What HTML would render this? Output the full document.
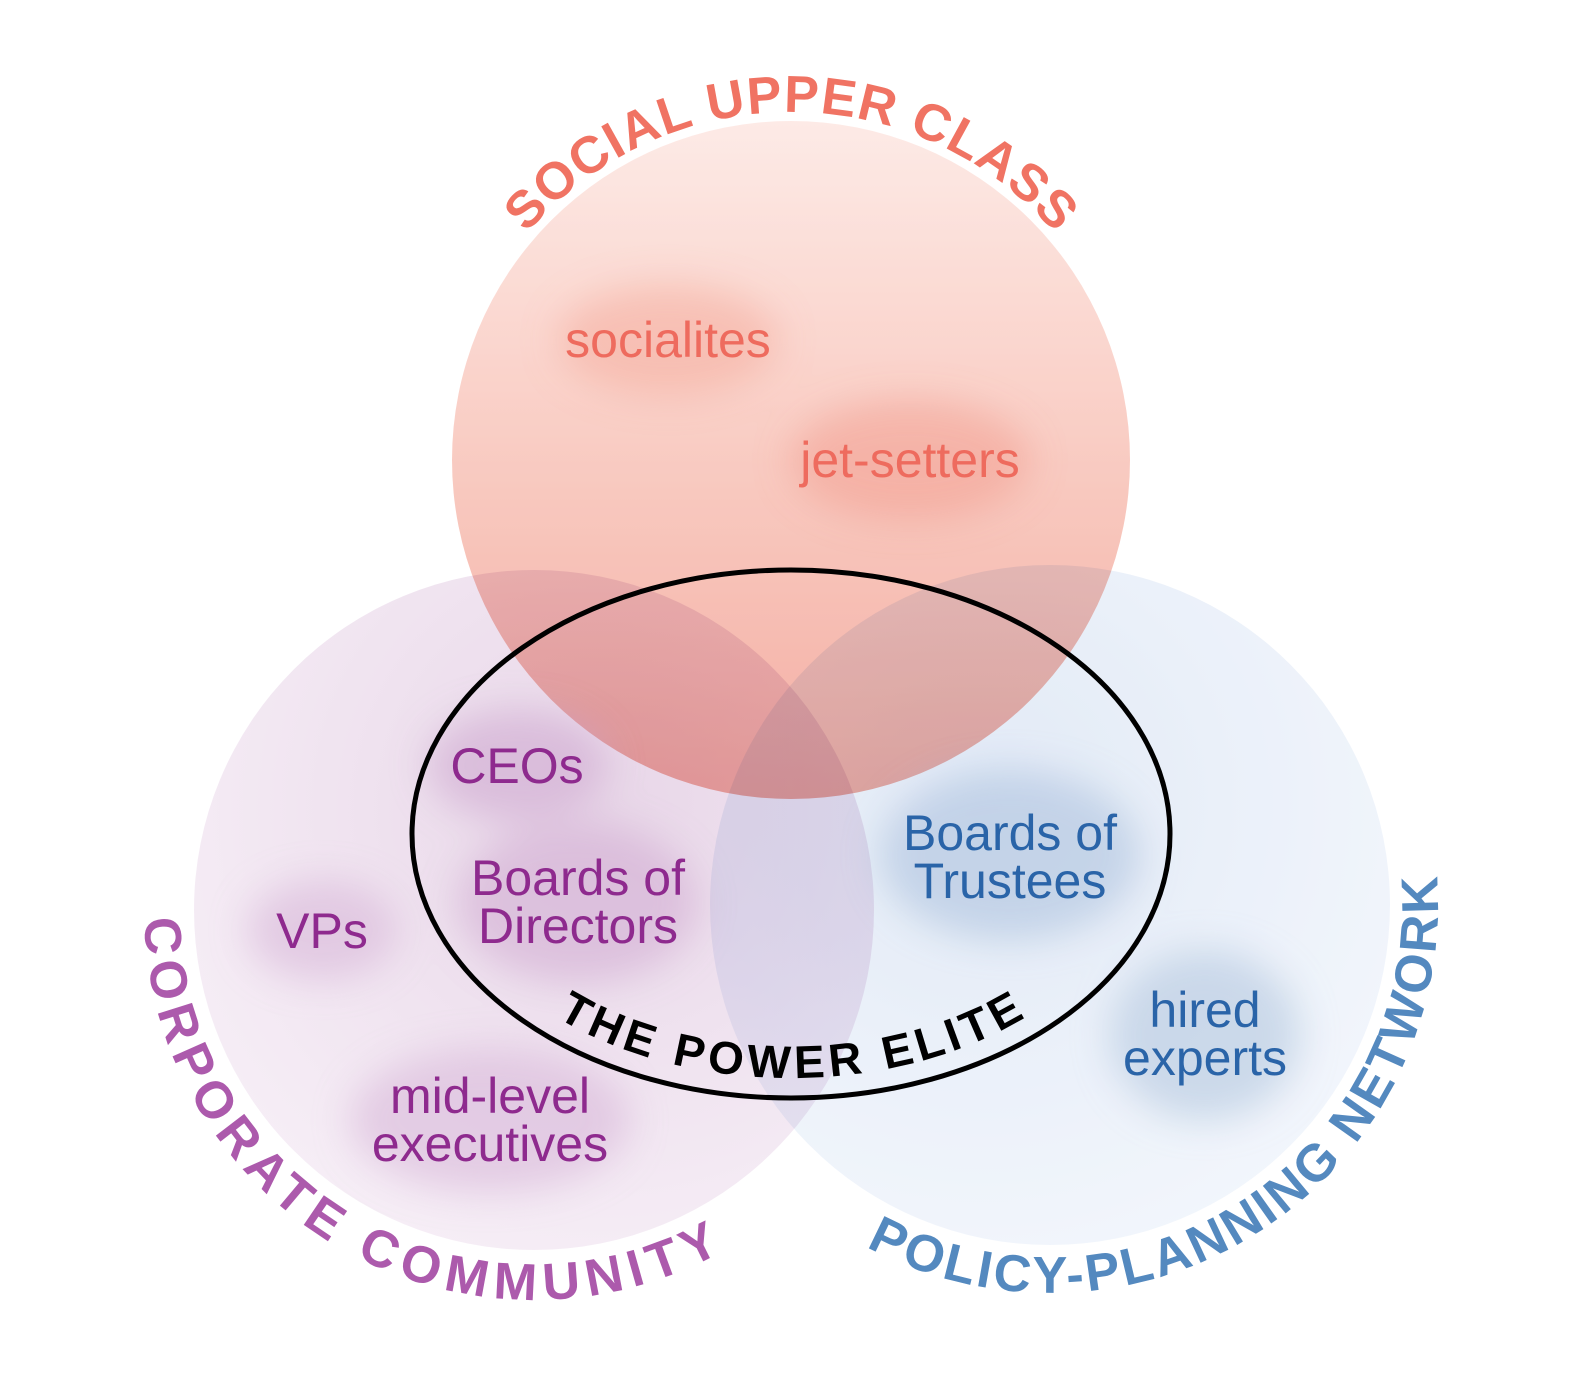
<!DOCTYPE html>
<html><head><meta charset="utf-8"><style>
html,body{margin:0;padding:0;background:#fff}
svg{display:block}
text{font-family:"Liberation Sans",Arial,sans-serif}
</style></head><body>
<svg width="1573" height="1388" viewBox="0 0 1573 1388" xmlns="http://www.w3.org/2000/svg">
<defs>
<filter id="b" x="-50%" y="-50%" width="200%" height="200%"><feGaussianBlur stdDeviation="18"/></filter>
<linearGradient id="gt" x1="0" y1="0" x2="0" y2="1">
<stop offset="0" stop-color="#fde6e1"/><stop offset="0.55" stop-color="#f7bcb0"/><stop offset="1" stop-color="#f19c8f"/>
</linearGradient>
<radialGradient id="gl" cx="0.6" cy="0.35" r="0.7">
<stop offset="0" stop-color="#e8d6e8"/><stop offset="1" stop-color="#f6eef6"/>
</radialGradient>
<radialGradient id="gr" cx="0.4" cy="0.35" r="0.7">
<stop offset="0" stop-color="#d8e3f3"/><stop offset="1" stop-color="#eef3fb"/>
</radialGradient>
<path id="pTop" d="M443,460 A348,348 0 0 1 1139,460"/>
<path id="pLeft" d="M235.3,659.3 A390,390 0 1 0 900.6,1043.4"/>
<path id="pRight" d="M692.8,1056.6 A388,388 0 1 0 1333.8,640.4"/>
<path id="pEl" d="M436,834 A355,244 0 0 0 1146,834"/>
</defs>

<circle cx="534" cy="910" r="340" fill="url(#gl)"/>
<circle cx="1050" cy="905" r="340" fill="url(#gr)" opacity="0.75" style="mix-blend-mode:multiply"/>
<circle cx="791" cy="460" r="339" fill="url(#gt)" opacity="0.82" style="mix-blend-mode:multiply"/>

<g filter="url(#b)">
<ellipse cx="668" cy="340" rx="110" ry="55" fill="#f4a394" opacity="0.45"/>
<ellipse cx="910" cy="460" rx="120" ry="60" fill="#f08f80" opacity="0.4"/>
<ellipse cx="517" cy="765" rx="90" ry="55" fill="#c9a0cc" opacity="0.5"/>
<ellipse cx="578" cy="903" rx="120" ry="80" fill="#c9a0cc" opacity="0.45"/>
<ellipse cx="322" cy="930" rx="75" ry="50" fill="#d4b0d6" opacity="0.5"/>
<ellipse cx="490" cy="1120" rx="140" ry="72" fill="#d4b0d6" opacity="0.5"/>
<ellipse cx="1010" cy="855" rx="130" ry="85" fill="#a9c0dc" opacity="0.55"/>
<ellipse cx="1205" cy="1035" rx="95" ry="85" fill="#b4c8e0" opacity="0.6"/>
</g>

<ellipse cx="791" cy="834" rx="379" ry="264" fill="none" stroke="#000" stroke-width="5"/>

<g font-size="50" text-anchor="middle">
<text x="668" y="357" fill="#ee6b5e">socialites</text>
<text x="910" y="477" fill="#ee6b5e">jet-setters</text>
<text x="517" y="783" fill="#8e2a8e">CEOs</text>
<text x="578" y="895" fill="#8e2a8e">Boards of</text>
<text x="578" y="943" fill="#8e2a8e">Directors</text>
<text x="322" y="948" fill="#8e2a8e">VPs</text>
<text x="490" y="1113" fill="#8e2a8e">mid-level</text>
<text x="490" y="1161" fill="#8e2a8e">executives</text>
<text x="1010" y="850" fill="#2a64a8">Boards of</text>
<text x="1010" y="898" fill="#2a64a8">Trustees</text>
<text x="1205" y="1027" fill="#2a64a8">hired</text>
<text x="1205" y="1075" fill="#2a64a8">experts</text>
</g>

<g font-size="52" font-weight="bold" text-anchor="middle">
<text fill="#f07363"><textPath href="#pTop" startOffset="50%" textLength="600" lengthAdjust="spacing">SOCIAL UPPER CLASS</textPath></text>
<text fill="#ac5aac"><textPath href="#pLeft" startOffset="50%" textLength="800" lengthAdjust="spacing">CORPORATE COMMUNITY</textPath></text>
<text fill="#5489bf"><textPath href="#pRight" startOffset="50%" textLength="830" lengthAdjust="spacing">POLICY-PLANNING NETWORK</textPath></text>
<text fill="#000" font-size="46"><textPath href="#pEl" startOffset="50%" textLength="490" lengthAdjust="spacing">THE POWER ELITE</textPath></text>
</g>
</svg>
</body></html>
